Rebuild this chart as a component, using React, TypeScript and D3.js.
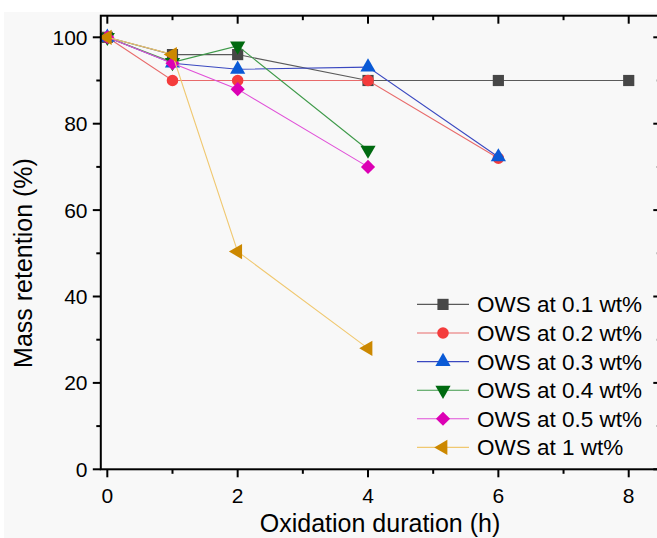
import React from 'react';
import * as d3 from 'd3';

// values
const hours = [0, 1, 2, 4, 6, 8];
const ows01 = [100, 96, 96, 90, 90, 90];
const ows02 = [100, 90, 90, 90, 72];
const ows03 = [100, 94, 92.6, 93.1, 72.3];
const ows04 = [100, 94.2, 98, 73.9];
const ows05 = [100, 94, 88, 70];
const ows1 = [100, 96, 50.4, 28];

const seriesNames = ['OWS at 0.1 wt%', 'OWS at 0.2 wt%', 'OWS at 0.3 wt%', 'OWS at 0.4 wt%', 'OWS at 0.5 wt%', 'OWS at 1 wt%'];
const xMajor = [0, 2, 4, 6, 8];
const xMinor = [1, 3, 5, 7];
const yMajor = [0, 20, 40, 60, 80, 100];
const yMinor = [10, 30, 50, 70, 90];

const W = 657, H = 538;
const FONT = '"Liberation Sans", Arial, sans-serif';

const series = [
  { name: seriesNames[0], values: ows01, line: '#5a5a5a', fill: '#474747', shape: 'square' },
  { name: seriesNames[1], values: ows02, line: '#e86a6a', fill: '#f43c3c', shape: 'circle' },
  { name: seriesNames[2], values: ows03, line: '#3a48c0', fill: '#0a5ad6', shape: 'up' },
  { name: seriesNames[3], values: ows04, line: '#3f9a4a', fill: '#006a10', shape: 'down' },
  { name: seriesNames[4], values: ows05, line: '#e050d8', fill: '#dc00b4', shape: 'diamond' },
  { name: seriesNames[5], values: ows1, line: '#f0c870', fill: '#cc8800', shape: 'left' },
];

function symbolPath(shape: string) {
  if (shape === 'square') return { d: d3.symbol(d3.symbolSquare, 125)(), rot: 0 };
  if (shape === 'circle') return { d: d3.symbol(d3.symbolCircle, 105)(), rot: 0 };
  if (shape === 'diamond') return { d: d3.symbol(d3.symbolSquare, 100)(), rot: 45 };
  const tri = d3.symbol(d3.symbolTriangle, 100)();
  if (shape === 'down') return { d: tri, rot: 180 };
  if (shape === 'left') return { d: tri, rot: -90 };
  return { d: tri, rot: 0 };
}

function Marker({ shape, fill, x, y }: { shape: string; fill: string; x: number; y: number }) {
  const s = symbolPath(shape);
  return <path d={s.d as string} fill={fill} transform={`translate(${x},${y}) rotate(${s.rot})`} />;
}

export default function App() {
  const x = d3.scaleLinear().domain([-0.1, 8.5]).range([100.8, 661.3]);
  const y = d3.scaleLinear().domain([0, 105]).range([469.3, 15.7]);
  const [x0, x1] = x.range();
  const [y0, y1] = y.range();

  const line = d3.line<number>();

  return (
    <div style={{ position: 'fixed', left: 0, top: 0 }}>
      <svg width={W} height={H} viewBox={`0 0 ${W} ${H}`} style={{ display: 'block', fontFamily: FONT }}>
        <rect x={0} y={0} width={W} height={H} fill="#ffffff" />
        <rect x={4} y={12} width={W - 4} height={H - 12} fill="#f8f8f8" />

        {/* data */}
        {series.map((s) => (
          <g key={s.name}>
            <path
              d={line(s.values.map((v, i) => [x(hours[i]), y(v)]) as any) as string}
              fill="none"
              stroke={s.line}
              strokeWidth={1.1}
            />
            {s.values.map((v, i) => (
              <Marker key={i} shape={s.shape} fill={s.fill} x={x(hours[i])} y={y(v)} />
            ))}
          </g>
        ))}

        {/* frame */}
        <rect x={x0} y={y1} width={x1 - x0} height={y0 - y1} fill="none" stroke="#000" strokeWidth={2} />

        {/* bottom ticks (outward) + top ticks (inward) */}
        {xMajor.map((t) => (
          <g key={'xM' + t}>
            <line x1={x(t)} x2={x(t)} y1={y0} y2={y0 + 8} stroke="#000" strokeWidth={2} />
            <line x1={x(t)} x2={x(t)} y1={y1} y2={y1 + 8} stroke="#000" strokeWidth={2} />
            <text x={x(t)} y={503} fontSize={21} textAnchor="middle" fill="#000">{t}</text>
          </g>
        ))}
        {xMinor.map((t) => (
          <g key={'xm' + t}>
            <line x1={x(t)} x2={x(t)} y1={y0} y2={y0 + 4.5} stroke="#000" strokeWidth={2} />
            <line x1={x(t)} x2={x(t)} y1={y1} y2={y1 + 4.5} stroke="#000" strokeWidth={2} />
          </g>
        ))}

        {/* left ticks (outward) + right ticks (inward) */}
        {yMajor.map((t) => (
          <g key={'yM' + t}>
            <line x1={x0 - 8} x2={x0} y1={y(t)} y2={y(t)} stroke="#000" strokeWidth={2} />
            <line x1={x1 - 8} x2={x1} y1={y(t)} y2={y(t)} stroke="#000" strokeWidth={2} />
            <text x={87.5} y={y(t) + 7.5} fontSize={21} textAnchor="end" fill="#000">{t}</text>
          </g>
        ))}
        {yMinor.map((t) => (
          <g key={'ym' + t}>
            <line x1={x0 - 4.5} x2={x0} y1={y(t)} y2={y(t)} stroke="#000" strokeWidth={2} />
            <line x1={x1 - 4.5} x2={x1} y1={y(t)} y2={y(t)} stroke="#000" strokeWidth={2} />
          </g>
        ))}

        {/* axis titles */}
        <text x={380} y={532} fontSize={25} textAnchor="middle" fill="#000">Oxidation duration (h)</text>
        <text transform="translate(32,263) rotate(-90)" fontSize={25} textAnchor="middle" fill="#000">Mass retention (%)</text>

        {/* legend */}
        {series.map((s, i) => {
          const ly = 304.4 + i * 28.6;
          return (
            <g key={'lg' + i}>
              <line x1={417} x2={469} y1={ly} y2={ly} stroke={s.line} strokeWidth={1.1} />
              <Marker shape={s.shape} fill={s.fill} x={443} y={ly} />
              <text x={477} y={ly + 8} fontSize={22.5} fill="#000">{s.name}</text>
            </g>
          );
        })}
      </svg>
    </div>
  );
}
